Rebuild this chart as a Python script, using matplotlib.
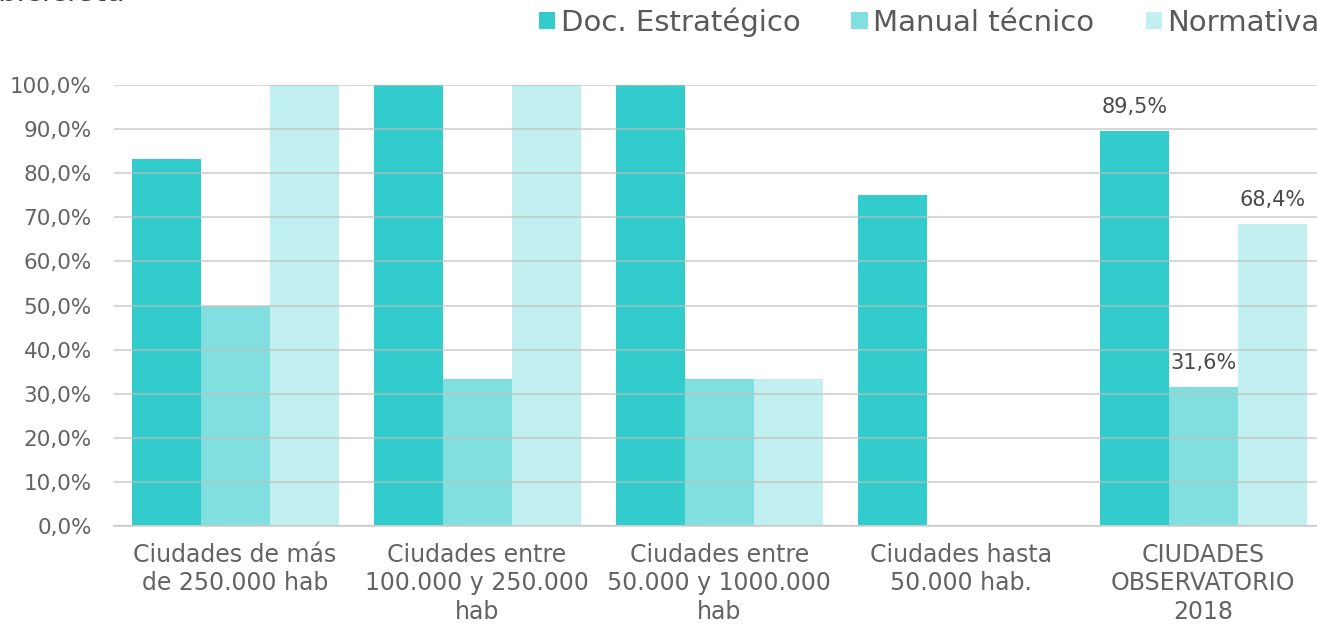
import matplotlib.pyplot as plt
import numpy as np

plt.rcParams['font.family'] = ['DejaVu Sans']

categories = ['Ciudades de más\nde 250.000 hab',
              'Ciudades entre\n100.000 y 250.000\nhab',
              'Ciudades entre\n50.000 y 1000.000\nhab',
              'Ciudades hasta\n50.000 hab.',
              'CIUDADES\nOBSERVATORIO\n2018']
series = ['Doc. Estratégico', 'Manual técnico', 'Normativa']
doc_estrategico = [83.3, 100.0, 100.0, 75.0, 89.5]
manual_tecnico = [50.0, 33.3, 33.3, 0.0, 31.6]
normativa = [100.0, 100.0, 33.3, 0.0, 68.4]
colors = ['#33CCCC', '#82DFDF', '#C2EFEF']

fig = plt.figure(figsize=(13.17, 6.26), dpi=100)
ax = fig.add_axes([114 / 1317, 1 - 526 / 626, 1 - 114 / 1317, (526 - 85) / 626])

x = np.arange(len(categories))
w = 0.285
values = [doc_estrategico, manual_tecnico, normativa]
for i, (name, vals) in enumerate(zip(series, values)):
    ax.bar(x + (i - 1) * w, vals, w, color=colors[i], label=name, zorder=2)

# labels only on the last group
for i, vals in enumerate(values):
    v = vals[-1]
    ax.annotate(f'{v:.1f}%'.replace('.', ','), (x[-1] + (i - 1) * w, v),
                xytext=(0, 10), textcoords='offset points', ha='center', va='bottom',
                fontsize=15, color='#4a4a4a')

ax.set_ylim(0, 100)
ax.set_xlim(-0.5, 4.47)
ax.set_yticks(np.arange(0, 101, 10))
ax.set_yticklabels([f'{t:.1f}%'.replace('.', ',') for t in np.arange(0, 101, 10)])
ax.set_xticks(x)
ax.set_xticklabels(categories, linespacing=1.24)
ax.yaxis.grid(True, color='#bfbfbf', alpha=0.6, linewidth=1.5, zorder=3)
ax.set_axisbelow(False)
for s in ['top', 'right', 'left']:
    ax.spines[s].set_visible(False)
ax.spines['bottom'].set_color('#d9d9d9')
ax.spines['bottom'].set_linewidth(1.5)
ax.tick_params(axis='both', length=0, labelcolor='#636363')
ax.tick_params(axis='x', pad=12, labelsize=17)
ax.tick_params(axis='y', pad=16, labelsize=15.5)

# title cut off at the top, as in the source image
fig.text(-0.002, 0.9985, 'bicicleta', fontsize=22, color='#404040', va='baseline', ha='left')

fig.legend(loc='center right', bbox_to_anchor=(1.002, 1 - 22 / 626), ncol=3, frameon=False,
           fontsize=21, labelcolor='#595959', handlelength=0.55, handleheight=0.55,
           handletextpad=0.2, columnspacing=1.75, borderpad=0, borderaxespad=0)

fig.savefig('out.png', dpi=100)
